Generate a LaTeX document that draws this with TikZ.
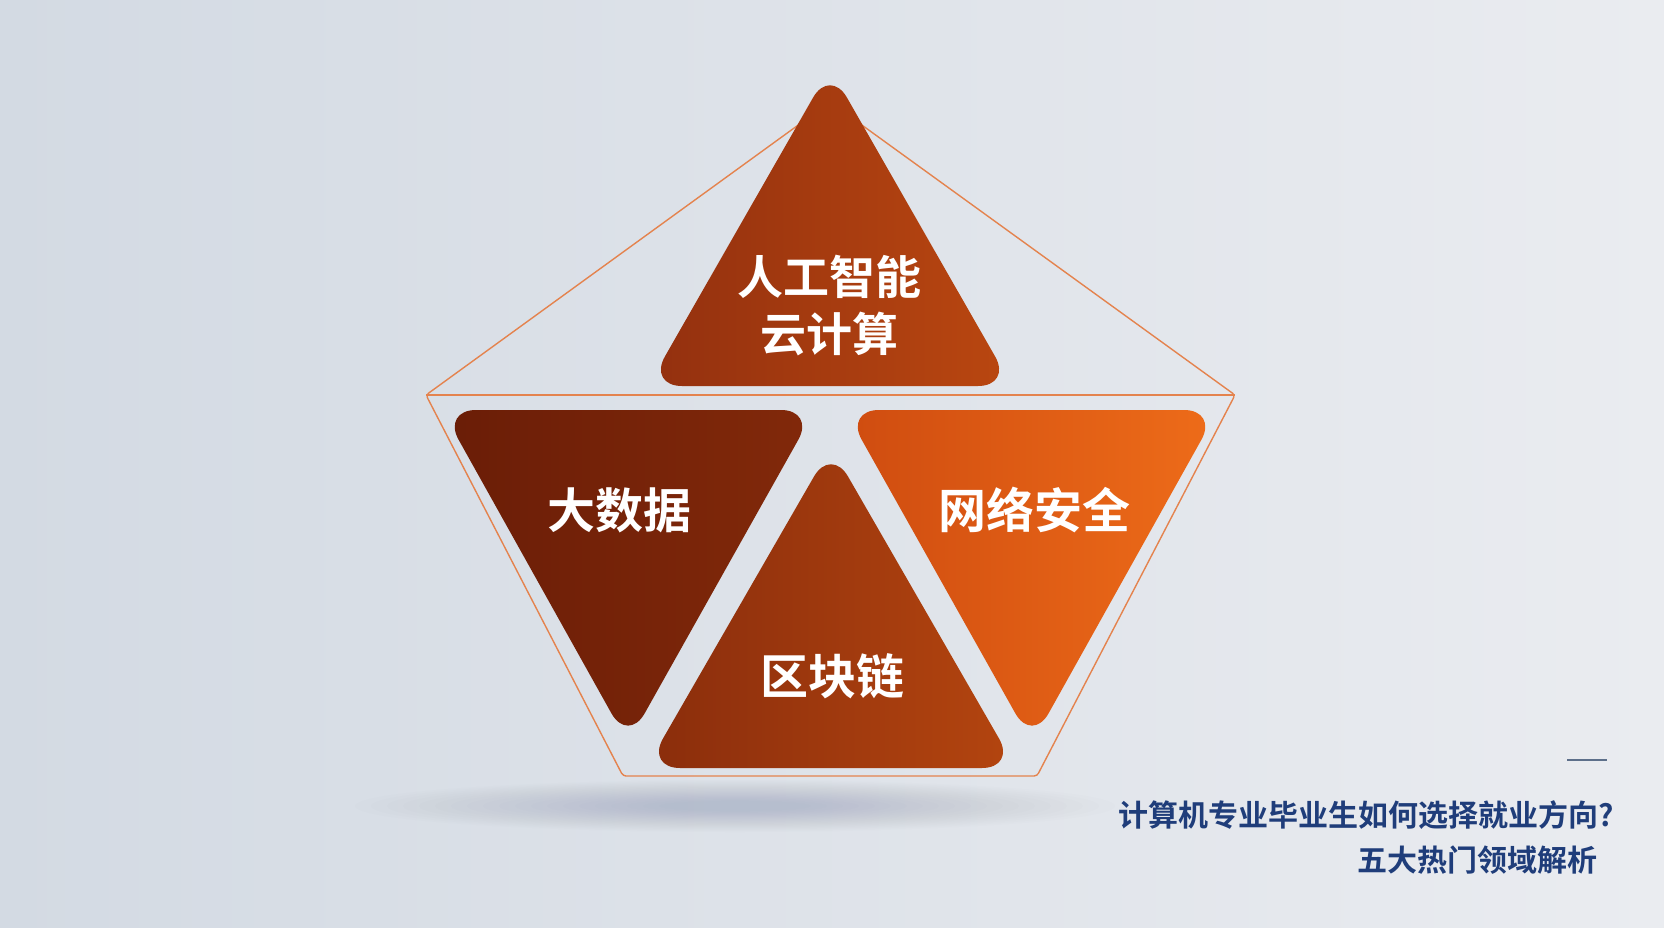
\documentclass[tikz,border=0pt]{standalone}
\usepackage{fontspec}
\newfontfamily\cjk{Noto Sans CJK SC}[BoldFont={Noto Sans CJK SC Bold}]
\definecolor{bgleft}{HTML}{D3DAE3}
\definecolor{bgright}{HTML}{EAECF0}
\definecolor{shadowc}{HTML}{7D8FA8}
\definecolor{lineor}{HTML}{E4834E}
\definecolor{aileft}{HTML}{93300F}
\definecolor{airight}{HTML}{BA4710}
\definecolor{bdleft}{HTML}{6A1D07}
\definecolor{bdright}{HTML}{82290A}
\definecolor{bcleft}{HTML}{8A2D0C}
\definecolor{bcright}{HTML}{B4450F}
\definecolor{nsleft}{HTML}{CF4C10}
\definecolor{nsright}{HTML}{EE6C19}
\definecolor{titleblue}{HTML}{1F3D7A}
\definecolor{rulegray}{HTML}{5D6F8A}

\tikzset{
  trishape/.style={rounded corners=34pt},
  tritext/.style={text=white, inner sep=0pt, align=center,
    font=\cjk\bfseries\fontsize{48}{57}\selectfont},
  outline/.style={draw=lineor, line width=1.4pt, rounded corners=3pt},
  titletext/.style={text=titleblue, inner sep=0pt,
    font=\cjk\bfseries\fontsize{30}{36}\selectfont},
}

\begin{document}
\begin{tikzpicture}[x=1pt, y=-1pt]
  \useasboundingbox (0,0) rectangle (1664,928);
  \shade[left color=bgleft, right color=bgright] (0,0) rectangle (1664,928);

  % soft shadow under the pentagon
  \foreach \i in {0,...,19}
    \fill[shadowc, opacity=0.02] (735,806) ellipse ({380-\i*16} and {26-\i*1.1});

  % pentagon frame
  \coordinate (ptop) at (830,102);
  \coordinate (pleft) at (426,395);
  \coordinate (pright) at (1235,395);
  \coordinate (pbr) at (1037,776);
  \coordinate (pbl) at (623,776);
  \draw[outline] (pleft) -- (ptop) -- (pright) -- (pbr) -- (pbl) -- cycle;
  \draw[outline] (pleft) -- (pright);

  % four triangles
  \shade[trishape, left color=aileft, right color=airight]
    (830,68) -- (1012,386) -- (648,386) -- cycle;
  \shade[trishape, left color=bdleft, right color=bdright]
    (442,410) -- (815,410) -- (628,743) -- cycle;
  \shade[trishape, left color=nsleft, right color=nsright]
    (845,410) -- (1218,410) -- (1032,743) -- cycle;
  \shade[trishape, left color=bcleft, right color=bcright]
    (831,447) -- (1016,768) -- (646,768) -- cycle;

  \node[tritext, font=\cjk\bfseries\fontsize{46}{57}\selectfont] (ai) at (829,306) {人工智能\\云计算};
  \node[tritext] (bd) at (619,510) {大数据};
  \node[tritext] (ns) at (1034,510) {网络安全};
  \node[tritext] (bc) at (832,676) {区块链};

  % title block
  \draw[rulegray, line width=2pt] (1567,760) -- (1607,760);
  \node[titletext, anchor=east] (title) at (1614,815) {计算机专业毕业生如何选择就业方向?};
  \node[titletext, anchor=east] (subtitle) at (1598,860) {五大热门领域解析};
\end{tikzpicture}
\end{document}
